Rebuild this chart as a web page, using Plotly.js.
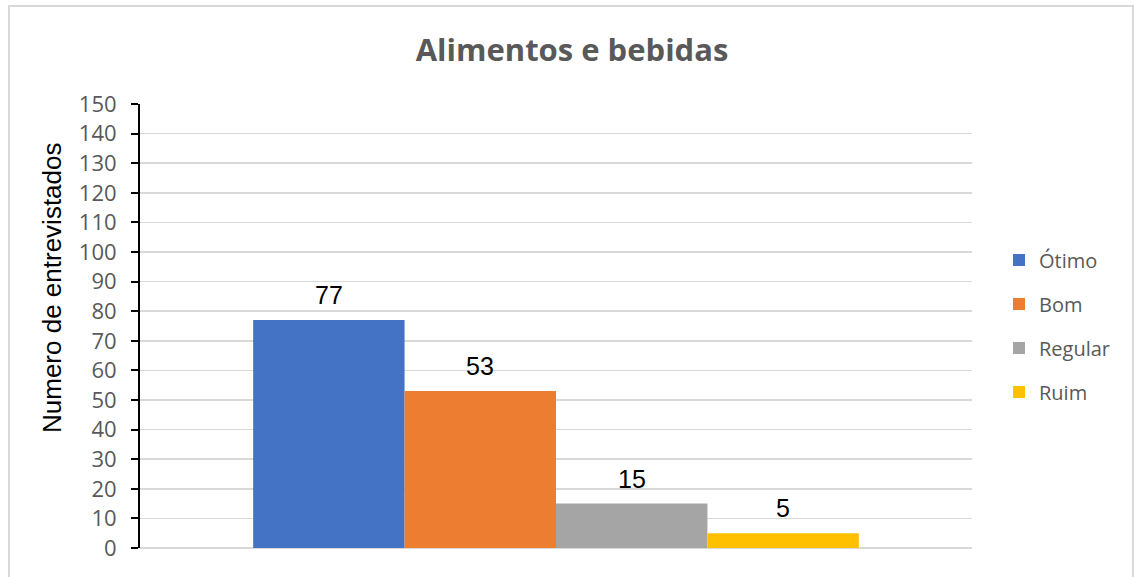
<!DOCTYPE html>
<html>
<head>
<meta charset="utf-8">
<script src="https://cdn.plot.ly/plotly-3.0.1.min.js"></script>
<style>
html,body{margin:0;padding:0;background:#fff;}
#wrap{position:relative;width:1135px;height:577px;overflow:hidden;}
#chart{position:absolute;left:0;top:0;width:1135px;height:577px;}
#border{position:absolute;left:8px;top:5px;width:1126px;height:600px;border:2px solid #d9d9d9;pointer-events:none;box-sizing:border-box;}
</style>
</head>
<body>
<div id="wrap"><div id="chart"></div><div id="border"></div></div>
<script>
const categories = ["Alimentos e bebidas"];
const seriesNames = ["Ótimo", "Bom", "Regular", "Ruim"];
const seriesValues = [77, 53, 15, 5];
const seriesColors = ["#4472c4", "#ed7d31", "#a5a5a5", "#ffc000"];
const yTicks = [0,10,20,30,40,50,60,70,80,90,100,110,120,130,140,150];
const yAxisTitle = "Numero de entrevistados";

const traces = seriesNames.map((n, i) => ({
  type: 'bar',
  name: n,
  legendgroup: 'g' + i,
  x: categories,
  y: [seriesValues[i]],
  marker: {color: seriesColors[i]},
  hoverinfo: 'none'
}));

const n = seriesNames.length;
const bargap = 0.272;
const groupW = 1 - bargap;
const annotations = seriesValues.map((v, i) => ({
  x: -groupW/2 + groupW*(i+0.5)/n,
  xref: 'x',
  y: v,
  yref: 'y',
  text: String(v),
  showarrow: false,
  yanchor: 'bottom',
  yshift: 9,
  font: {family: 'Liberation Sans, Arial, sans-serif', size: 25, color: '#000'}
}));
annotations.push({
  text: yAxisTitle,
  xref: 'paper', yref: 'paper',
  x: (52 - 140) / 832, y: (548 - 288) / 444,
  xanchor: 'center', yanchor: 'middle',
  textangle: -90, showarrow: false,
  font: {family: 'Liberation Sans, Arial, sans-serif', size: 26, color: '#000'}
});

const layout = {
  width: 1135, height: 577,
  margin: {l: 140, r: 163, t: 104, b: 29},
  paper_bgcolor: '#fff', plot_bgcolor: '#fff',
  title: {text: '<b>Alimentos e bebidas</b>', x: 0.504, xanchor: 'center', y: 0.913, yanchor: 'middle',
          font: {family: 'Open Sans, sans-serif', size: 31, color: '#595959'}},
  barmode: 'group',
  bargap: bargap,
  bargroupgap: 0,
  showlegend: true,
  legend: {x: 1 + (999 - 972) / 832, xanchor: 'left', y: 0.5, yanchor: 'middle',
           font: {family: 'Open Sans, sans-serif', size: 20, color: '#595959'},
           tracegroupgap: 15, itemwidth: 30, traceorder: 'grouped'},
  xaxis: {showticklabels: false, showgrid: false, zeroline: false, showline: false, ticks: '', range: [-0.5, 0.5], fixedrange: true},
  yaxis: {range: [0, 150], tickvals: yTicks, ticktext: yTicks.map(String),
          showgrid: true, gridcolor: '#d9d9d9', gridwidth: 1.5,
          zeroline: true, zerolinecolor: '#d9d9d9', zerolinewidth: 2,
          showline: true, linecolor: '#000', linewidth: 2,
          ticks: 'outside', ticklen: 7, tickwidth: 2, tickcolor: '#000',
          ticklabelstandoff: 10,
          tickfont: {family: 'Open Sans, sans-serif', size: 22, color: '#595959'}},
  annotations: annotations
};

Plotly.newPlot('chart', traces, layout, {displayModeBar: false, staticPlot: true});
</script>
</body>
</html>
